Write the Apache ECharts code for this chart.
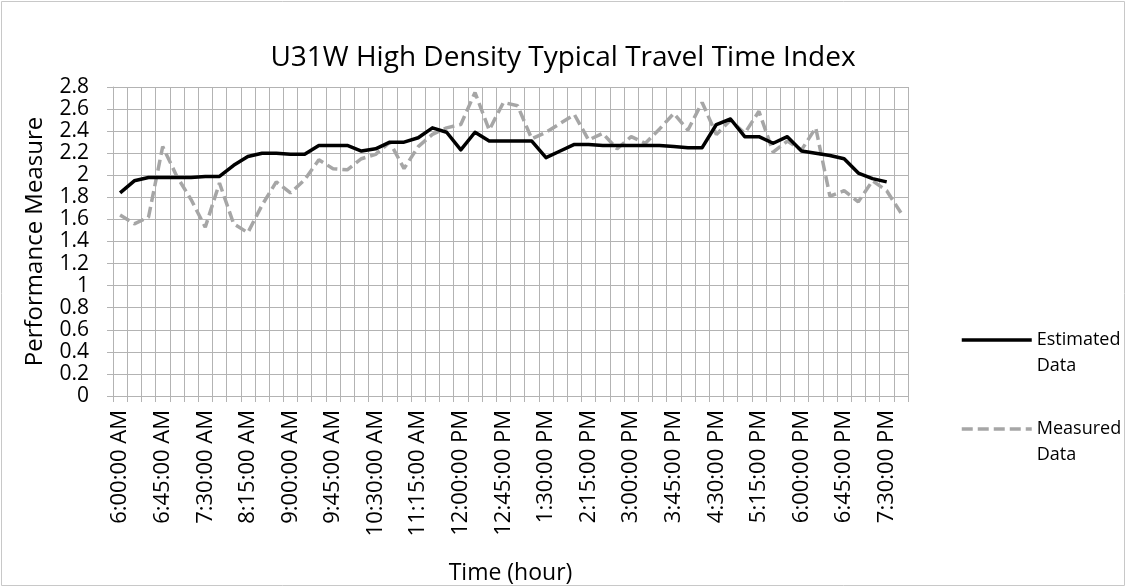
<!DOCTYPE html>
<html>
<head>
<meta charset="utf-8">
<script src="https://cdn.jsdelivr.net/npm/echarts@6/dist/echarts.min.js"></script>
<style>
  html, body { margin: 0; padding: 0; background: #fff; }
  #chart { width: 1126px; height: 587px; }
</style>
</head>
<body>
<div id="chart"></div>
<script>
// 15-minute time slots, 6:00 AM to 7:45 PM
const timeSlots = [
  "6:00:00 AM", "6:15:00 AM", "6:30:00 AM", "6:45:00 AM",
  "7:00:00 AM", "7:15:00 AM", "7:30:00 AM", "7:45:00 AM",
  "8:00:00 AM", "8:15:00 AM", "8:30:00 AM", "8:45:00 AM",
  "9:00:00 AM", "9:15:00 AM", "9:30:00 AM", "9:45:00 AM",
  "10:00:00 AM", "10:15:00 AM", "10:30:00 AM", "10:45:00 AM",
  "11:00:00 AM", "11:15:00 AM", "11:30:00 AM", "11:45:00 AM",
  "12:00:00 PM", "12:15:00 PM", "12:30:00 PM", "12:45:00 PM",
  "1:00:00 PM", "1:15:00 PM", "1:30:00 PM", "1:45:00 PM",
  "2:00:00 PM", "2:15:00 PM", "2:30:00 PM", "2:45:00 PM",
  "3:00:00 PM", "3:15:00 PM", "3:30:00 PM", "3:45:00 PM",
  "4:00:00 PM", "4:15:00 PM", "4:30:00 PM", "4:45:00 PM",
  "5:00:00 PM", "5:15:00 PM", "5:30:00 PM", "5:45:00 PM",
  "6:00:00 PM", "6:15:00 PM", "6:30:00 PM", "6:45:00 PM",
  "7:00:00 PM", "7:15:00 PM", "7:30:00 PM", "7:45:00 PM"
];

// Travel time index, estimated (no value for the last slot)
const estimatedData = [
  1.84, 1.95, 1.98, 1.98, 1.98, 1.98, 1.99, 1.99,
  2.09, 2.17, 2.20, 2.20, 2.19, 2.19, 2.27, 2.27,
  2.27, 2.22, 2.24, 2.30, 2.30, 2.34, 2.43, 2.39,
  2.23, 2.39, 2.31, 2.31, 2.31, 2.31, 2.16, 2.22,
  2.28, 2.28, 2.27, 2.27, 2.27, 2.27, 2.27, 2.26,
  2.25, 2.25, 2.46, 2.51, 2.35, 2.35, 2.29, 2.35,
  2.22, 2.20, 2.18, 2.15, 2.02, 1.97, 1.94, null
];

// Travel time index, measured
const measuredData = [
  1.64, 1.56, 1.62, 2.26, 1.99, 1.78, 1.53, 1.93,
  1.56, 1.48, 1.73, 1.94, 1.84, 1.96, 2.14, 2.06,
  2.05, 2.15, 2.19, 2.30, 2.06, 2.26, 2.37, 2.43,
  2.46, 2.75, 2.41, 2.66, 2.63, 2.33, 2.39, 2.47,
  2.55, 2.32, 2.38, 2.24, 2.35, 2.29, 2.42, 2.56,
  2.41, 2.66, 2.37, 2.50, 2.38, 2.58, 2.21, 2.31,
  2.23, 2.43, 1.81, 1.86, 1.76, 1.95, 1.86, 1.66
];

const seriesNames = ["Estimated\nData", "Measured\nData"];
const titleText = "U31W High Density Typical Travel Time Index";
const xAxisTitle = "Time (hour)";
const yAxisTitle = "Performance Measure";

const FONT = "Open Sans";
const gridColor = "#b3b3b3";

const chart = echarts.init(document.getElementById("chart"), null, { renderer: "canvas" });

chart.setOption({
  backgroundColor: "#ffffff",
  animation: false,
  textStyle: { fontFamily: FONT, color: "#000" },
  title: {
    text: titleText,
    left: "center",
    top: 39,
    textStyle: { fontFamily: FONT, fontSize: 28, fontWeight: "normal", color: "#000" }
  },
  graphic: [{
    type: "rect",
    shape: { x: 1.5, y: 1.5, width: 1123, height: 584 },
    style: { fill: null, stroke: "#c8c8c8", lineWidth: 1 },
    silent: true
  }],
  legend: {
    orient: "vertical",
    left: 960,
    top: 301,
    padding: 0,
    itemWidth: 70,
    itemHeight: 14,
    itemGap: 11,
    itemStyle: { opacity: 0 },
    lineStyle: { width: 3.5 },
    // a blank first line keeps the series name's first line level with the key line
    formatter: (name) => " \n" + name,
    textStyle: { fontFamily: FONT, fontSize: 18, color: "#000", lineHeight: 26 },
    data: seriesNames
  },
  grid: {
    left: 113, top: 87, right: 218, bottom: 191,
    containLabel: false,
    outerBoundsMode: "none"
  },
  xAxis: {
    type: "category",
    data: timeSlots,
    boundaryGap: true,
    name: xAxisTitle,
    nameLocation: "middle",
    nameGap: 166,
    nameTextStyle: { fontFamily: FONT, fontSize: 23, color: "#000" },
    axisLine: { lineStyle: { color: gridColor, width: 1 } },
    axisTick: { show: true, interval: 0, length: 6, lineStyle: { color: gridColor } },
    axisLabel: {
      interval: 2, rotate: 90, margin: 14,
      fontFamily: FONT, fontSize: 22, color: "#000"
    },
    splitLine: { show: true, interval: 0, lineStyle: { color: gridColor, width: 1 } }
  },
  yAxis: {
    type: "value",
    min: 0,
    max: 2.8,
    interval: 0.2,
    name: yAxisTitle,
    nameLocation: "middle",
    nameGap: 66,
    nameTextStyle: { fontFamily: FONT, fontSize: 24, color: "#000" },
    axisLine: { show: true, lineStyle: { color: gridColor, width: 1 } },
    axisTick: { show: true, length: 6, lineStyle: { color: gridColor } },
    axisLabel: { margin: 24, fontFamily: FONT, fontSize: 21, color: "#000" },
    splitLine: { show: true, lineStyle: { color: gridColor, width: 1 } }
  },
  series: [
    {
      name: seriesNames[0],
      type: "line",
      data: estimatedData,
      showSymbol: false,
      symbol: "none",
      lineStyle: { color: "#000000", width: 3.5, join: "round" },
      itemStyle: { color: "#000000" },
      z: 3
    },
    {
      name: seriesNames[1],
      type: "line",
      data: measuredData,
      showSymbol: false,
      symbol: "none",
      lineStyle: { color: "#a6a6a6", width: 3.5, type: [11, 5], cap: "butt" },
      itemStyle: { color: "#a6a6a6" },
      z: 2
    }
  ]
});
</script>
</body>
</html>
